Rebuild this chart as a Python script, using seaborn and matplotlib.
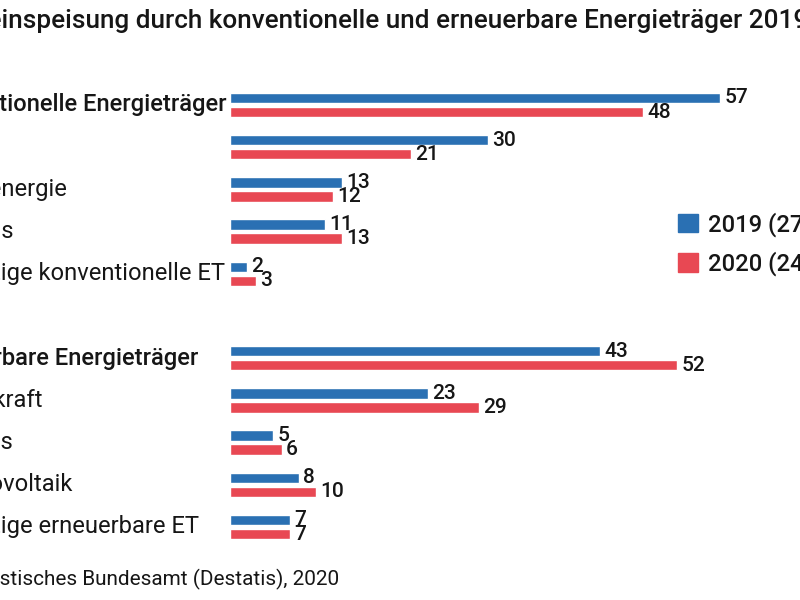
import matplotlib
matplotlib.use("Agg")
import matplotlib.pyplot as plt
import matplotlib.transforms as mtransforms
from matplotlib.patches import Patch
import seaborn as sns
import pandas as pd

# ---------------- data ----------------
categories = ["Konventionelle Energieträger", "Kohle", "Kernenergie", "Erdgas",
              "Sonstige konventionelle ET",
              "Erneuerbare Energieträger", "Windkraft", "Biogas", "Photovoltaik",
              "Sonstige erneuerbare ET"]
headers = ["Konventionelle Energieträger", "Erneuerbare Energieträger"]
values_2019 = [57, 30, 13, 11, 2, 43, 23, 5, 8, 7]
values_2020 = [48, 21, 12, 13, 3, 52, 29, 6, 10, 7]
series_labels = ["2019 (273 Mrd. kWh)", "2020 (245 Mrd. kWh)"]
title = "Stromeinspeisung durch konventionelle und erneuerbare Energieträger 2019 und 2020"
source = "Quelle: Statistisches Bundesamt (Destatis), 2020"

# ---------------- style ----------------
BLUE = "#2a70b3"
RED = "#e84853"
INK = "#161616"
sns.set_style("white")
plt.rcParams["font.family"] = ["Roboto", "DejaVu Sans"]
BOLD = "medium"

W, H = 800, 600
fig = plt.figure(figsize=(8, 6), dpi=100)
fig.patch.set_facecolor("white")
renderer = fig.canvas.get_renderer()


def px_w(s, size, weight):
    t = fig.text(0, 0, s, fontsize=size, fontweight=weight)
    w = t.get_window_extent(renderer).width
    t.remove()
    return w


def fit(s, target, weight):
    return 12 * target / px_w(s, 12, weight)


# ---------------- layout ----------------
ax_left = 230
px_per_unit = 8.6
slot = 42.2
first = 105
ax = fig.add_axes([ax_left / W, 0, 1 - ax_left / W, 1])

spacer = " "
order = categories[:5] + [spacer] + categories[5:]
df = pd.DataFrame({
    "Kategorie": categories * 2,
    "Jahr": [series_labels[0]] * len(categories) + [series_labels[1]] * len(categories),
    "Anteil": values_2019 + values_2020,
})
sns.barplot(data=df, y="Kategorie", x="Anteil", hue="Jahr", order=order,
            hue_order=series_labels, palette=[BLUE, RED], orient="h",
            width=0.664, gap=0.25, saturation=1, ax=ax, legend=False,
            errorbar=None)
ax.set_xlim(0, (W - ax_left) / px_per_unit)
ax.set_ylim((H - first) / slot, -first / slot)
ax.axis("off")

# ---------------- text ----------------
lab_size = fit("ige konventionelle ET", 223, "normal")
val_size = lab_size * 0.88

for c in ax.containers:
    ax.bar_label(c, padding=3, fontsize=val_size, fontweight=BOLD, color=INK)

xs = 225 - px_w("Sonstige konventionelle ET", lab_size, "normal")
xh = 227 - px_w("Konventionelle Energieträger", lab_size, BOLD)
trans = mtransforms.blended_transform_factory(fig.transFigure, ax.transData) + \
    mtransforms.ScaledTranslation(0, -6.5 / 100, fig.dpi_scale_trans)
for i, cat in enumerate(order):
    if cat == spacer:
        continue
    is_h = cat in headers
    ax.text((xh if is_h else xs) / W, i, cat, transform=trans, ha="left",
            va="baseline", fontsize=lab_size,
            fontweight=BOLD if is_h else "normal", color=INK, clip_on=False)

t_size = fit("inspeisung durch konventionelle und erneuerbare Energieträger 201", 790, BOLD)
tx = 2 - px_w("Strome", t_size, BOLD)
fig.text(tx / W, 1 - 28 / H, title, fontsize=t_size, fontweight=BOLD,
         color=INK, ha="left", va="baseline")

s_size = fit("stisches Bundesamt (Destatis), 2020", 338, "normal")
sx = 0 - px_w("Quelle: Stati", s_size, "normal")
fig.text(sx / W, 1 - 585 / H, source, fontsize=s_size, color=INK,
         ha="left", va="baseline")

leg_size = lab_size
fs_px = leg_size * 100 / 72
fig.legend(handles=[Patch(color=BLUE), Patch(color=RED)], labels=series_labels,
           loc="upper left", bbox_to_anchor=(678 / W, 1 - 212 / H),
           frameon=False, borderpad=0, borderaxespad=0,
           handlelength=20 / fs_px, handleheight=20 / fs_px,
           handletextpad=10 / fs_px, labelspacing=0.62,
           prop={"size": leg_size, "weight": BOLD}, labelcolor=INK)

fig.savefig("out.png", dpi=100, facecolor="white")
